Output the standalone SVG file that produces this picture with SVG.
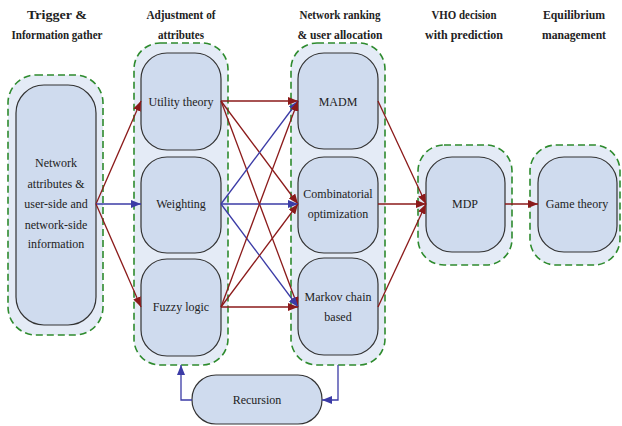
<svg xmlns="http://www.w3.org/2000/svg" width="622" height="426" viewBox="0 0 622 426">
<style>
.grp{fill:#e4ebf6;stroke:#2e8b2e;stroke-width:1.6;stroke-dasharray:7 4}
.nd{fill:#cfdbee;stroke:#333;stroke-width:1.2}
.t{font-family:'Liberation Serif','Times New Roman',Tinos,'DejaVu Serif',serif;font-size:12px;fill:#222;text-anchor:middle}
.h{font-family:'Liberation Serif','Times New Roman',Tinos,'DejaVu Serif',serif;font-size:13px;font-weight:bold;fill:#222;text-anchor:middle}
.r{stroke:#8b1a1a;stroke-width:1.3;fill:none;marker-end:url(#ar)}
.b{stroke:#3b3ba6;stroke-width:1.3;fill:none;marker-end:url(#ab)}
</style>
<defs>
<marker id="ar" markerWidth="10" markerHeight="8" refX="10" refY="4" orient="auto" markerUnits="userSpaceOnUse"><path d="M0,0 L10,4 L0,8 Z" fill="#8b1a1a"/></marker>
<marker id="ab" markerWidth="10" markerHeight="8" refX="10" refY="4" orient="auto" markerUnits="userSpaceOnUse"><path d="M0,0 L10,4 L0,8 Z" fill="#3b3ba6"/></marker>
</defs>
<rect width="622" height="426" fill="#fff"/>
<g id="titles">
<text class="h" x="57" y="19" textLength="60" lengthAdjust="spacingAndGlyphs">Trigger &amp;</text>
<text class="h" x="57" y="39" textLength="91" lengthAdjust="spacingAndGlyphs">Information gather</text>
<text class="h" x="181" y="19" textLength="69" lengthAdjust="spacingAndGlyphs">Adjustment of</text>
<text class="h" x="181" y="39" textLength="46" lengthAdjust="spacingAndGlyphs">attributes</text>
<text class="h" x="340" y="19" textLength="81" lengthAdjust="spacingAndGlyphs">Network ranking</text>
<text class="h" x="340" y="39" textLength="85" lengthAdjust="spacingAndGlyphs">&amp; user allocation</text>
<text class="h" x="464" y="19" textLength="65" lengthAdjust="spacingAndGlyphs">VHO decision</text>
<text class="h" x="464" y="39" textLength="78" lengthAdjust="spacingAndGlyphs">with prediction</text>
<text class="h" x="574" y="19" textLength="62" lengthAdjust="spacingAndGlyphs">Equilibrium</text>
<text class="h" x="574" y="39" textLength="64" lengthAdjust="spacingAndGlyphs">management</text>
</g>
<g id="group1"><rect class="grp" x="8" y="75" width="95" height="260" rx="28"/></g>
<g id="group2"><rect class="grp" x="134" y="43" width="94" height="322" rx="26"/></g>
<g id="group3"><rect class="grp" x="291" y="43" width="94" height="322" rx="26"/></g>
<g id="group4"><rect class="grp" x="418" y="145" width="94" height="120" rx="26"/></g>
<g id="group5"><rect class="grp" x="530" y="145" width="90" height="120" rx="26"/></g>
<g id="info"><rect class="nd" x="16" y="85" width="80" height="240" rx="28"/>
<text class="t" x="56" y="167">Network</text>
<text class="t" x="56" y="188">attributes &amp;</text>
<text class="t" x="56" y="208">user-side and</text>
<text class="t" x="56" y="229">network-side</text>
<text class="t" x="56" y="248">information</text></g>
<g id="utility"><rect class="nd" x="141" y="53" width="80" height="97" rx="26"/><text class="t" x="181" y="106">Utility theory</text></g>
<g id="weighting"><rect class="nd" x="141" y="157" width="80" height="96" rx="26"/><text class="t" x="181" y="208">Weighting</text></g>
<g id="fuzzy"><rect class="nd" x="141" y="259" width="80" height="97" rx="26"/><text class="t" x="181" y="311">Fuzzy logic</text></g>
<g id="madm"><rect class="nd" x="298" y="53" width="80" height="96" rx="26"/><text class="t" x="338" y="106">MADM</text></g>
<g id="comb"><rect class="nd" x="298" y="157" width="80" height="96" rx="26"/><text class="t" x="338" y="198">Combinatorial</text><text class="t" x="338" y="218">optimization</text></g>
<g id="markov"><rect class="nd" x="298" y="258" width="80" height="97" rx="26"/><text class="t" x="338" y="301">Markov chain</text><text class="t" x="338" y="321">based</text></g>
<g id="mdp"><rect class="nd" x="426" y="157" width="79" height="95" rx="26"/><text class="t" x="465" y="208">MDP</text></g>
<g id="game"><rect class="nd" x="538" y="157" width="79" height="95" rx="26"/><text class="t" x="577" y="208">Game theory</text></g>
<g id="recursion"><rect class="nd" x="192" y="375" width="130" height="49" rx="24"/><text class="t" x="257" y="404">Recursion</text></g>
<g id="connectors">
<path class="r" d="M96,204 L141,101"/>
<path class="b" d="M96,204 L141,204"/>
<path class="r" d="M96,204 L141,307"/>
<path class="r" d="M221,101 L298,101"/>
<path class="r" d="M221,101 L298,204"/>
<path class="r" d="M221,101 L298,307"/>
<path class="b" d="M221,204 L298,101"/>
<path class="b" d="M221,204 L298,204"/>
<path class="b" d="M221,204 L298,307"/>
<path class="r" d="M221,307 L298,101"/>
<path class="r" d="M221,307 L298,204"/>
<path class="r" d="M221,307 L298,307"/>
<path class="r" d="M378,101 L426,204"/>
<path class="r" d="M378,204 L426,204"/>
<path class="r" d="M378,307 L426,204"/>
<path class="r" d="M505,204 L538,204"/>
<path class="b" d="M192,400 L181,400 L181,365"/>
<path class="b" d="M338,365 L338,400 L322,400"/>
</g>
</svg>
